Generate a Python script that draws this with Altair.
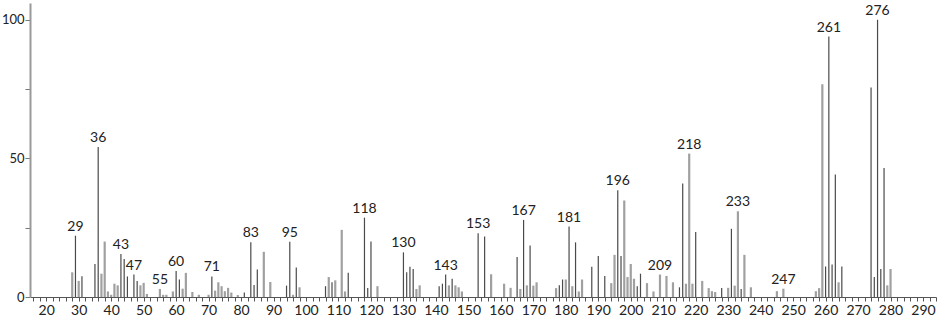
import altair as alt
import pandas as pd

masses = [28, 29, 30, 31, 35, 36, 37, 38, 39, 40, 41, 42, 43, 44, 45, 47, 48, 49, 50, 51,
          55, 56, 57, 59, 60, 61, 62, 63, 65, 67, 70, 71, 72, 73, 74, 75, 76, 77, 79, 81,
          83, 84, 85, 87, 89, 94, 95, 96, 97, 98, 106, 107, 108, 109, 111, 112, 113, 118, 119, 120,
          122, 130, 131, 132, 133, 134, 135, 141, 142, 143, 144, 145, 146, 147, 148, 153, 155, 157, 161, 163,
          165, 166, 167, 168, 169, 170, 171, 177, 178, 179, 180, 181, 182, 183, 184, 185, 188, 190, 192, 194,
          195, 196, 197, 198, 199, 200, 201, 202, 203, 205, 207, 209, 211, 213, 215, 216, 217, 218, 219, 220,
          222, 224, 225, 226, 228, 230, 231, 232, 233, 234, 235, 237, 245, 247, 257, 258, 259, 260, 261, 262,
          263, 264, 265, 274, 275, 276, 277, 278, 279, 280]

intensities = [8.9, 22.1, 5.8, 7.5, 11.9, 54.1, 8.4, 20.0, 2.0, 0.8, 4.8, 4.2, 15.5, 13.7, 7.4, 8.1, 5.8, 4.2, 5.1, 1.1,
               2.9, 0.8, 0.8, 2.0, 9.4, 6.3, 3.0, 8.7, 1.8, 0.8, 0.8, 7.4, 2.3, 5.3, 3.9, 2.1, 3.3, 1.6, 0.7, 1.6,
               19.7, 4.3, 9.9, 16.3, 5.4, 4.1, 19.9, 0.8, 10.6, 3.5, 3.9, 7.2, 5.3, 6.0, 24.2, 2.0, 8.7, 28.6, 3.2, 20.0,
               3.9, 16.1, 8.9, 10.9, 10.1, 2.9, 4.2, 3.9, 4.8, 8.1, 4.2, 6.6, 4.2, 3.5, 2.0, 23.0, 21.8, 8.2, 4.8, 3.3,
               14.4, 2.9, 27.8, 4.2, 18.6, 4.1, 5.3, 3.2, 4.2, 6.3, 6.3, 25.4, 3.9, 19.7, 2.0, 6.3, 10.9, 14.8, 7.6, 5.0,
               15.2, 38.5, 14.8, 34.8, 7.2, 11.9, 6.6, 3.9, 8.4, 5.0, 2.0, 8.1, 7.6, 5.3, 3.5, 40.9, 4.8, 51.7, 4.8, 23.4,
               5.8, 3.2, 2.1, 1.8, 3.2, 3.3, 24.6, 4.1, 30.9, 2.9, 15.2, 3.5, 2.1, 3.0, 2.1, 3.2, 76.7, 11.0, 93.9, 11.7,
               44.2, 5.3, 11.0, 75.5, 7.2, 100.0, 10.1, 46.5, 4.2, 10.1]

# peaks drawn in the darker, thinner stroke; all others are lighter grey
dark_peaks = [29, 31, 35, 36, 43, 44, 45, 47, 48, 60, 61, 71, 81, 83, 84, 85, 94, 95, 97, 106, 108, 113, 118, 119, 120,
              130, 131, 132, 133, 141, 142, 143, 145, 153, 155, 165, 167, 169, 178, 179, 181, 183, 188, 190, 192, 196, 197,
              202, 203, 215, 216, 220, 228, 231, 234, 260, 261, 262, 263, 265, 274, 275, 276, 277, 278]

labeled = [29, 36, 43, 47, 55, 60, 71, 83, 95, 118, 130, 143, 153, 167, 181, 196, 209, 218, 233, 247, 261, 276]

x_ticks = list(range(16, 295, 2))
y_ticks = [0, 25, 50, 75, 100]

shades = ["d" if m in dark_peaks else "g" for m in masses]
df = pd.DataFrame({"mz": masses, "rel": intensities, "shade": shades})
df["label"] = [str(m) if m in labeled else "" for m in masses]
lab = df[df["label"] != ""]

FONT = "Lato"

xscale = alt.Scale(domain=[15, 294], nice=False, zero=False)
yscale = alt.Scale(domain=[0, 106], nice=False)

xaxis = alt.Axis(values=x_ticks,
                 labelExpr="datum.value % 10 == 0 ? datum.label : ''",
                 labelOverlap=False, labelBound=False, title=None, grid=False,
                 domainColor="#555", domainWidth=1, tickColor="#555", tickSize=4,
                 labelFont=FONT, labelFontSize=14, labelColor="#222", labelPadding=2)
yaxis = alt.Axis(values=y_ticks,
                 labelExpr="datum.value % 50 == 0 ? datum.label : ''",
                 labelOverlap=False, title=None, grid=False, domainColor="#999", domainWidth=2,
                 tickColor="#777", tickSize=5, labelFont=FONT, labelFontSize=13,
                 labelColor="#222", labelPadding=1)

rules = alt.Chart(df).mark_rule().encode(
    x=alt.X("mz:Q", scale=xscale, axis=xaxis),
    y=alt.Y("rel:Q", scale=yscale, axis=yaxis),
    y2=alt.datum(0),
    color=alt.Color("shade:N", scale=alt.Scale(domain=["d", "g"], range=["#4a4a4a", "#a0a0a0"]), legend=None),
    strokeWidth=alt.StrokeWidth("shade:N", scale=alt.Scale(domain=["d", "g"], range=[1.2, 2.2]), legend=None),
)

texts = alt.Chart(lab).mark_text(baseline="bottom", dy=-2, font=FONT, fontSize=14, color="#222").encode(
    x=alt.X("mz:Q", scale=xscale, axis=xaxis),
    y=alt.Y("rel:Q", scale=yscale, axis=yaxis),
    text="label:N",
)

chart = alt.layer(rules, texts).properties(
    width=906, height=294,
    autosize=alt.AutoSizeParams(type="none"),
    padding={"left": 30, "top": 3, "right": 4, "bottom": 23},
).configure_view(stroke=None)

chart.save("out.html", embed_options={"renderer": "svg", "actions": False})
